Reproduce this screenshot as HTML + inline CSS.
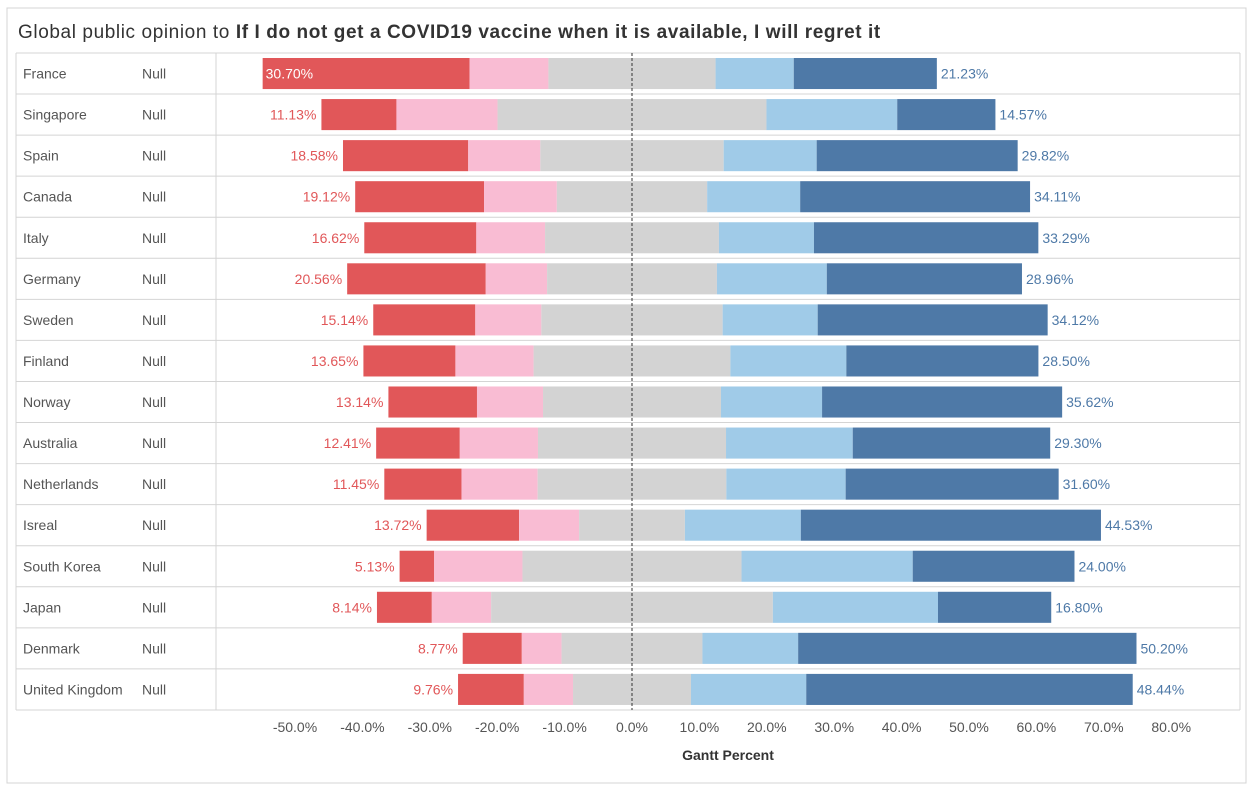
<!DOCTYPE html>
<html><head><meta charset="utf-8"><style>
body{margin:0;background:#fff;}
svg{display:block;font-family:"Liberation Sans",sans-serif;}
</style></head><body>
<svg id="chart" width="1254" height="793">
<rect x="7" y="8" width="1239" height="775" fill="none" stroke="#d4d4d4"/>
<text x="18" y="38" font-size="19" letter-spacing="0.6" fill="#333">Global public opinion to <tspan font-weight="bold">If I do not get a COVID19 vaccine when it is available, I will regret it</tspan></text>
<g id="grid"></g><g id="bars"></g><g id="axis"></g>
<text x="728" y="760" font-size="14" font-weight="bold" fill="#333" text-anchor="middle">Gantt Percent</text>
</svg>
<script>
const countries=["France","Singapore","Spain","Canada","Italy","Germany","Sweden","Finland","Norway","Australia","Netherlands","Isreal","South Korea","Japan","Denmark","United Kingdom"];
const stronglyDisagree=[30.70,11.13,18.58,19.12,16.62,20.56,15.14,13.65,13.14,12.41,11.45,13.72,5.13,8.14,8.77,9.76];
const disagree=[11.7,15.0,10.7,10.8,10.2,9.1,9.8,11.6,9.8,11.6,11.3,8.9,13.1,8.8,5.9,7.3];
const neutral=[24.8,39.9,27.2,22.3,25.8,25.2,26.9,29.2,26.4,27.9,28.0,15.7,32.5,41.8,20.9,17.5];
const agree=[11.6,19.4,13.8,13.8,14.1,16.3,14.1,17.2,15.0,18.8,17.7,17.2,25.4,24.5,14.2,17.1];
const stronglyAgree=[21.23,14.57,29.82,34.11,33.29,28.96,34.12,28.50,35.62,29.30,31.60,44.53,24.00,16.80,50.20,48.44];
const ticks=[-50,-40,-30,-20,-10,0,10,20,30,40,50,60,70,80];

const NS="http://www.w3.org/2000/svg";
const x=v=>632+v*6.74;
const top0=53,rowH=41.06;
function mk(tag,attrs,parent){const e=document.createElementNS(NS,tag);for(const k in attrs)e.setAttribute(k,attrs[k]);parent.appendChild(e);return e;}
const grid=document.getElementById('grid'),bars=document.getElementById('bars'),axis=document.getElementById('axis');
const n=countries.length;
for(let i=0;i<=n;i++){const y=top0+i*rowH;const l=mk('line',{x1:16,x2:1240,y1:y,y2:y,stroke:'#d4d4d4'},grid);

}
[16,216,1240].forEach(xx=>{const l=mk('line',{x1:xx,x2:xx,y1:top0,y2:top0+n*rowH,stroke:'#d4d4d4'},grid);

});
const colors=["#e15759","#f9bcd3","#d3d3d3","#a0cbe8","#4e79a7"];
const segNames=["strongly-disagree","disagree","neutral","agree","strongly-agree"];
countries.forEach((c,i)=>{
  const y=top0+i*rowH;const cy=y+rowH/2;
  const t1=mk('text',{x:23,y:cy+5,'font-size':14,fill:'#555'},grid);t1.textContent=c;
  
  
  const t2=mk('text',{x:142,y:cy+5,'font-size':14,fill:'#555'},grid);t2.textContent='Null';
  
  
  const vals=[stronglyDisagree[i],disagree[i],neutral[i],agree[i],stronglyAgree[i]];
  let s=-(vals[0]+vals[1]+vals[2]/2);
  const start=s;
  vals.forEach((v,k)=>{const r=mk('rect',{x:x(s),y:y+5,width:v*6.74,height:rowH-10,fill:colors[k]},bars);
    
    
    s+=v;});
  const left=x(start);
  let lt;
  if(left<300){lt=mk('text',{x:left+3,y:cy+5,'font-size':14,fill:'#fff'},bars);}
  else{lt=mk('text',{x:left-5,y:cy+5,'font-size':14,fill:'#e15759','text-anchor':'end'},bars);}
  lt.textContent=stronglyDisagree[i].toFixed(2)+'%';
  
  
  const rt=mk('text',{x:x(s)+4,y:cy+5,'font-size':14,fill:'#4e79a7'},bars);
  rt.textContent=stronglyAgree[i].toFixed(2)+'%';
  
  
});
const zl=mk('line',{x1:x(0),x2:x(0),y1:top0,y2:top0+n*rowH,stroke:'#333','stroke-dasharray':'3,2'},bars);


ticks.forEach(t=>{const e=mk('text',{x:x(t),y:732,'font-size':14,fill:'#555','text-anchor':'middle'},axis);
  e.textContent=t.toFixed(1)+'%';
  
  });
</script>
</body></html>
